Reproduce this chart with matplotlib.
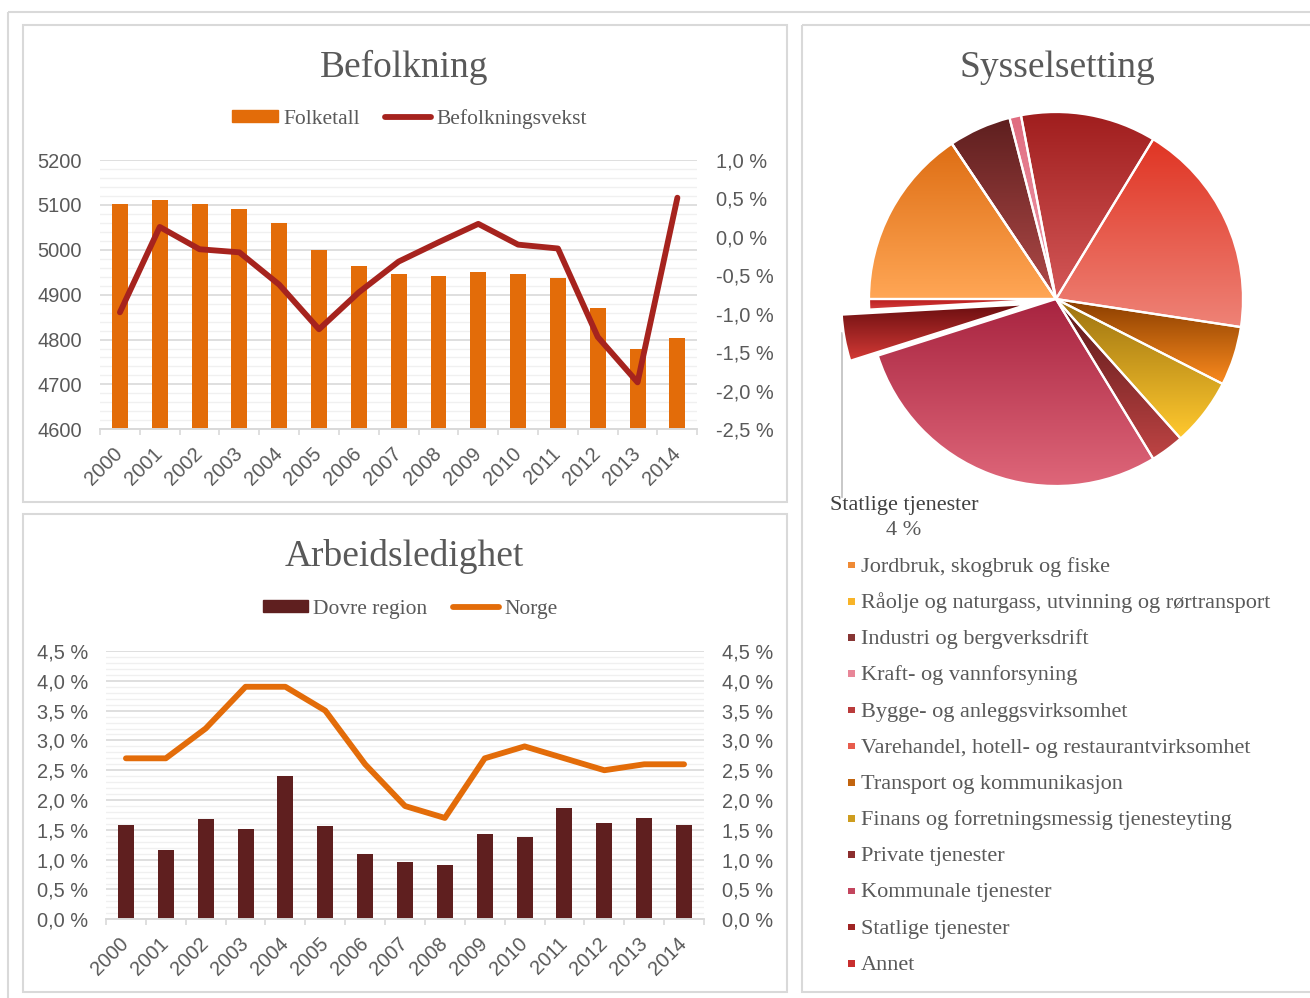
import matplotlib
matplotlib.use('Agg')
import matplotlib.pyplot as plt
import numpy as np
from matplotlib.patches import Rectangle, Patch
from matplotlib.lines import Line2D
from matplotlib.ticker import MultipleLocator, FuncFormatter
from matplotlib.colors import to_rgb

W, H = 1310, 998

years = [str(y) for y in range(2000, 2015)]
folketall = [5103, 5111, 5103, 5091, 5060, 4999, 4963, 4946, 4941, 4951, 4946, 4936, 4871, 4780, 4803]
befolkningsvekst = [-0.98, 0.13, -0.16, -0.20, -0.62, -1.20, -0.72, -0.32, -0.07, 0.17, -0.10, -0.15, -1.30, -1.89, 0.51]
dovre = [1.59, 1.16, 1.68, 1.52, 2.41, 1.56, 1.09, 0.96, 0.91, 1.43, 1.38, 1.87, 1.61, 1.70, 1.58]
norge = [2.7, 2.7, 3.2, 3.9, 3.9, 3.5, 2.6, 1.9, 1.7, 2.7, 2.9, 2.7, 2.5, 2.6, 2.6]

sektorer = ['Jordbruk, skogbruk og fiske',
            'Råolje og naturgass, utvinning og rørtransport',
            'Industri og bergverksdrift',
            'Kraft- og vannforsyning',
            'Bygge- og anleggsvirksomhet',
            'Varehandel, hotell- og restaurantvirksomhet',
            'Transport og kommunikasjon',
            'Finans og forretningsmessig tjenesteyting',
            'Private tjenester',
            'Kommunale tjenester',
            'Statlige tjenester',
            'Annet']
andel = [15.6, 0.0, 5.4, 1.0, 11.7, 18.7, 5.1, 5.9, 2.9, 28.8, 4.0, 0.9]
farge_topp = ['#DE6E14', '#F0A020', '#5E1F1F', '#E06C80', '#A01E1E', '#E03524',
              '#8A3E00', '#9C7210', '#5A1818', '#A82440', '#6A0E10', '#B81C1C']
farge_bunn = ['#FFA655', '#FFC830', '#B04A48', '#F0A0B0', '#D45858', '#EE8276',
              '#FA8A1E', '#FFC82E', '#BE4444', '#DE6679', '#D43A36', '#D84040']

GRAY = '#595959'
GRID = '#D9D9D9'
MINOR = '#F0F0F0'
SANS = ['Liberation Sans', 'DejaVu Sans']
SERIF = ['Liberation Serif', 'DejaVu Serif']
LW = 4.2


def box(x0, y0, x1, y1):
    return [x0 / W, 1 - y1 / H, (x1 - x0) / W, (y1 - y0) / H]


def pct(v, p):
    return f"{v:.1f} %".replace('.', ',')


fig = plt.figure(figsize=(W / 100, H / 100), dpi=100)

# background with panel frames
bg = fig.add_axes([0, 0, 1, 1], zorder=-1)
bg.set_xlim(0, W)
bg.set_ylim(H, 0)
bg.axis('off')
for (x0, y0, x1, y1) in [(8, 12, 1325, 1012), (23, 25, 787, 502), (23, 514, 787, 992), (802, 25, 1322, 992)]:
    bg.add_patch(Rectangle((x0, y0), x1 - x0, y1 - y0, fill=False, ec=GRID, lw=1.5))


def style_axes(ax, twin, lpad, rpad):
    for a in (ax, twin):
        a.set_facecolor('none')
        for s in ['top', 'left', 'right']:
            a.spines[s].set_visible(False)
        a.spines['bottom'].set_color(GRID)
        a.spines['bottom'].set_linewidth(1.2)
    ax.set_axisbelow(True)
    ax.grid(axis='y', which='major', color=GRID, lw=1.2)
    ax.grid(axis='y', which='minor', color=MINOR, lw=1.0)
    ax.set_xlim(-0.5, 14.5)
    ax.set_xticks(np.arange(15))
    ax.set_xticklabels(years, rotation=45, ha='right', va='center', rotation_mode='anchor',
                       fontsize=14.4, color=GRAY, family=SANS)
    ax.set_xticks(np.arange(-0.5, 15, 1), minor=True)
    ax.tick_params(axis='x', which='major', length=0, pad=15.5)
    ax.tick_params(axis='x', which='minor', length=4, color=GRID, width=1.2)
    ax.tick_params(axis='y', which='both', length=0, pad=lpad, labelsize=14.4, labelcolor=GRAY)
    twin.tick_params(axis='y', which='both', length=0, pad=rpad, labelsize=14.4, labelcolor=GRAY)
    for lab in ax.get_yticklabels() + twin.get_yticklabels():
        lab.set_family(SANS)


x = np.arange(len(years))

# ---- Befolkning ----
ax1 = fig.add_axes(box(100, 160, 697.3, 429.3))
ax1.bar(x, folketall, width=0.4, color='#E36C09', zorder=2)
ax1.set_ylim(4600, 5200)
ax1.set_yticks(range(4600, 5201, 100))
ax1.yaxis.set_minor_locator(MultipleLocator(20))
ax1r = ax1.twinx()
ax1r.plot(x, befolkningsvekst, color='#A6231E', lw=LW, solid_joinstyle='round', solid_capstyle='round')
ax1r.set_ylim(-2.5, 1.0)
ax1r.set_yticks(np.arange(-2.5, 1.01, 0.5))
ax1r.yaxis.set_major_formatter(FuncFormatter(pct))
style_axes(ax1, ax1r, 13, 13.5)

fig.text(404.5 / W, 1 - 77 / H, 'Befolkning', ha='center', va='baseline',
         fontsize=27, color=GRAY, family=SERIF)
fig.legend([Patch(color='#E36C09'), Line2D([], [], color='#A6231E', lw=LW, solid_capstyle='round')],
           ['Folketall', 'Befolkningsvekst'], loc='center', bbox_to_anchor=(409.5 / W, 1 - 119 / H),
           ncol=2, frameon=False, handlelength=2.1, handleheight=0.5, handletextpad=0.25,
           columnspacing=1.2, prop={'family': SERIF, 'size': 15.5}, labelcolor=GRAY)

# ---- Arbeidsledighet ----
ax2 = fig.add_axes(box(106, 651, 704, 919.3))
ax2.bar(x, dovre, width=0.4, color='#5F1F1F', zorder=2)
ax2.set_ylim(0, 4.5)
ax2.set_yticks(np.arange(0, 4.51, 0.5))
ax2.yaxis.set_minor_locator(MultipleLocator(0.1))
ax2.yaxis.set_major_formatter(FuncFormatter(pct))
ax2r = ax2.twinx()
ax2r.plot(x, norge, color='#E36C09', lw=LW, solid_joinstyle='round', solid_capstyle='round')
ax2r.set_ylim(0, 4.5)
ax2r.set_yticks(np.arange(0, 4.51, 0.5))
ax2r.yaxis.set_major_formatter(FuncFormatter(pct))
style_axes(ax2, ax2r, 13, 12.7)

fig.text(404.5 / W, 1 - 566 / H, 'Arbeidsledighet', ha='center', va='baseline',
         fontsize=27, color=GRAY, family=SERIF)
fig.legend([Patch(color='#5F1F1F'), Line2D([], [], color='#E36C09', lw=LW, solid_capstyle='round')],
           ['Dovre region', 'Norge'], loc='center', bbox_to_anchor=(410 / W, 1 - 609.5 / H),
           ncol=2, frameon=False, handlelength=2.1, handleheight=0.5, handletextpad=0.25,
           columnspacing=1.2, prop={'family': SERIF, 'size': 15.5}, labelcolor=GRAY)

# ---- Sysselsetting ----
cx, cy, R = 1056, 299, 187
pax = fig.add_axes(box(cx - 240, cy - 240, cx + 240, cy + 240))
pax.set_facecolor('none')
explode = [28 if s == 'Statlige tjenester' else 0 for s in sektorer]
wedges, _ = pax.pie(andel, radius=R, startangle=180, counterclock=False, explode=explode,
                    colors=farge_bunn, wedgeprops=dict(edgecolor='white', linewidth=1.6),
                    normalize=True)
for w, c0, c1 in zip(wedges, farge_topp, farge_bunn):
    bb = w.get_path().get_extents()
    if bb.height <= 0 or bb.width <= 0:
        continue
    t = np.linspace(0, 1, 64)[:, None]
    img = (1 - t) * np.array(to_rgb(c1)) + t * np.array(to_rgb(c0))
    im = pax.imshow(img[:, None, :], extent=(bb.x0, bb.x1, bb.y0, bb.y1), origin='lower',
                    aspect='auto', interpolation='bilinear', zorder=w.get_zorder() - 0.1)
    im.set_clip_path(w)
    w.set_facecolor('none')
pax.set_xlim(-240, 240)
pax.set_ylim(-240, 240)
pax.axis('off')

fig.text(1057 / W, 1 - 77 / H, 'Sysselsetting', ha='center', va='baseline',
         fontsize=27, color=GRAY, family=SERIF)

# data label for the exploded slice
bg.plot([841.7, 841.7], [333, 497], color='#BFBFBF', lw=1.2)
bg.text(904, 510, 'Statlige tjenester', ha='center', va='baseline', fontsize=16, color='#404040', family=SERIF)
bg.text(904, 535, f"{andel[sektorer.index('Statlige tjenester')]:.0f} %", ha='center', va='baseline',
        fontsize=16, color=GRAY, family=SERIF)

# legend
for i, (lab, c0, c1) in enumerate(zip(sektorer, farge_topp, farge_bunn)):
    yb = 571.7 + i * 36.2
    mid = 0.5 * (np.array(to_rgb(c0)) + np.array(to_rgb(c1)))
    bg.add_patch(Rectangle((848.3, yb - 10), 6.7, 6.7, color=mid, lw=0))
    bg.text(861, yb, lab, va='baseline', ha='left', fontsize=16, color=GRAY, family=SERIF)

fig.savefig('out.png', dpi=100, facecolor='white')
